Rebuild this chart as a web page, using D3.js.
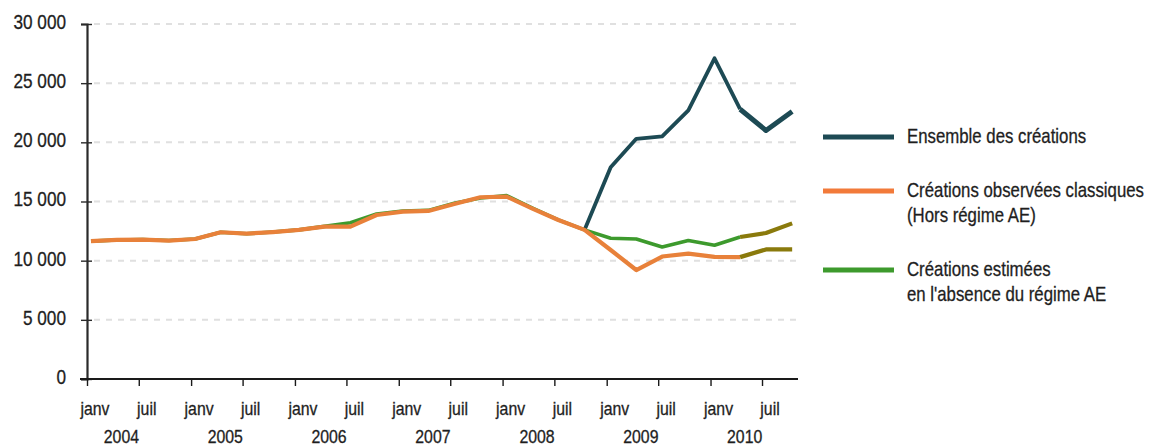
<!DOCTYPE html>
<html>
<head>
<meta charset="utf-8">
<script src="https://cdn.jsdelivr.net/npm/d3@7"></script>
<style>
  body { margin: 0; background: #fff; }
  svg text { font-family: "Liberation Sans", Arial, sans-serif; fill: #1e1e1e; }
</style>
</head>
<body>
<svg id="chart" width="1155" height="447"></svg>
<script>
// trimestres 2004T1 .. 2010T4
var years = [2004, 2005, 2006, 2007, 2008, 2009, 2010];
var tickMonths = ["janv", "juil"];
var yTicks = [0, 5000, 10000, 15000, 20000, 25000, 30000];

var ensemble = [
  11650, 11750, 11780, 11700,
  11830, 12400, 12280, 12420,
  12600, 12870, 12870, 13860,
  14140, 14200, 14790, 15360,
  15410, 14400, 13440, 12600,
  17900, 20300, 20500, 22700,
  27100, 22800, 21000, 22600
];
var classiques = [
  11650, 11750, 11780, 11700,
  11830, 12400, 12280, 12420,
  12600, 12870, 12870, 13860,
  14140, 14200, 14790, 15360,
  15410, 14400, 13440, 12600,
  10900, 9210, 10350, 10600,
  10320, 10300, 10950, 10950
];
var estimees = [
  11650, 11750, 11780, 11700,
  11830, 12400, 12280, 12420,
  12600, 12900, 13200, 13950,
  14200, 14250, 14850, 15300,
  15500, 14450, 13450, 12600,
  11900, 11830, 11160, 11700,
  11300, 12000, 12340, 13150
];
// a partir de cet indice : valeurs estimees (trait olive / plus epais)
var estimStart = 25;

var legendItems = [
  {lines: ["Ensemble des créations"], color: "#1d4a54"},
  {lines: ["Créations observées classiques", "(Hors régime AE)"], color: "#f27a3a"},
  {lines: ["Créations estimées", "en l'absence du régime AE"], color: "#3d9a2d"}
];

var svg = d3.select("#chart");

// police resserree comme dans l'original (echelle horizontale)
function condense(sel, k){
  sel.each(function(){
    var t = d3.select(this);
    var x0 = +t.attr("x") || 0;
    t.attr("x", 0).attr("transform", "translate(" + x0 + ",0) scale(" + k + ",1)");
  });
}

var dates = ensemble.map(function(d, i){
  return new Date(2004 + Math.floor(i / 4), (i % 4) * 3, 15);
});

var x = d3.scaleTime()
  .domain([new Date(2004, 0, 1), new Date(2010, 10, 1)])
  .range([87, 797]);
var y = d3.scaleLinear()
  .domain([0, 30000])
  .range([379, 24]);

var fr = d3.formatLocale({decimal: ",", thousands: " ", grouping: [3], currency: ["", " €"]});
var fmt = fr.format(",d");

/* grille */
svg.append("g").selectAll("line")
  .data(yTicks.filter(function(d){ return d > 0; }))
  .enter().append("line")
  .attr("x1", 94).attr("x2", 800)
  .attr("y1", function(d){ return y(d); })
  .attr("y2", function(d){ return y(d); })
  .attr("stroke", "#e0e0e0")
  .attr("stroke-width", 2)
  .attr("stroke-dasharray", "6,6");

/* axe Y */
var yAxis = svg.append("g")
  .attr("transform", "translate(87,0)")
  .call(d3.axisLeft(y).tickValues(yTicks).tickFormat(fmt).tickSize(6).tickPadding(15));
yAxis.select(".domain").attr("stroke", "#2a2a2a").attr("stroke-width", 2.2);
yAxis.selectAll(".tick line").attr("x2", -6).attr("x1", 5).attr("stroke", "#2a2a2a").attr("stroke-width", 1.4);
yAxis.selectAll(".tick text")
  .attr("font-size", 20)
  .attr("dy", "0.22em")
  .attr("font-family", null)
  .attr("stroke", "#1e1e1e").attr("stroke-width", 0.3)
  .call(condense, 0.86);

/* axe X */
var xTickDates = [];
years.forEach(function(yr){
  xTickDates.push(new Date(yr, 0, 1));
  xTickDates.push(new Date(yr, 6, 1));
});
var xAxis = svg.append("g")
  .attr("transform", "translate(0,379)")
  .call(d3.axisBottom(x).tickValues(xTickDates).tickFormat("").tickSize(7).tickSizeOuter(0));
xAxis.select(".domain").attr("stroke", "#1a1a1a").attr("stroke-width", 2.2).attr("d", "M80,0H798");
xAxis.selectAll(".tick line").attr("stroke", "#1a1a1a").attr("stroke-width", 1.4);

svg.append("g").selectAll("text")
  .data(xTickDates)
  .enter().append("text")
  .attr("x", function(d){ return x(d) + 8; })
  .attr("y", 415)
  .attr("text-anchor", "middle")
  .attr("font-size", 18)
  .attr("stroke", "#1e1e1e").attr("stroke-width", 0.3)
  .text(function(d){ return d.getMonth() === 0 ? tickMonths[0] : tickMonths[1]; })
  .call(condense, 0.88);

svg.append("g").selectAll("text")
  .data(years)
  .enter().append("text")
  .attr("x", function(d){ return x(new Date(d, 4, 1)); })
  .attr("y", 443)
  .attr("text-anchor", "middle")
  .attr("font-size", 18)
  .attr("stroke", "#1e1e1e").attr("stroke-width", 0.3)
  .text(function(d){ return d; })
  .call(condense, 0.88);

/* courbes */
var line = d3.line()
  .x(function(d){ return x(d[0]); })
  .y(function(d){ return y(d[1]); });

function pts(arr, from, to){
  var out = [];
  for(var i = from; i <= to; i++) out.push([dates[i], arr[i]]);
  return out;
}
function drawLine(data, color, w){
  svg.append("path")
    .datum(data)
    .attr("d", line)
    .attr("fill", "none")
    .attr("stroke", color)
    .attr("stroke-width", w)
    .attr("stroke-linejoin", "round")
    .attr("stroke-linecap", "butt");
}
var last = ensemble.length - 1;

drawLine(pts(ensemble, 19, estimStart), "#1d4a54", 3.8);
drawLine(pts(ensemble, estimStart, last), "#1d4a54", 5);
drawLine(pts(estimees, 0, estimStart), "#3d9a2d", 3.6);
drawLine(pts(estimees, estimStart, last), "#8a7a0c", 4.2);
drawLine(pts(classiques, 0, estimStart), "#e8813a", 4.2);
drawLine(pts(classiques, estimStart, last), "#8a7a0c", 4.2);

/* legende */
var legend = svg.append("g");
var legendY = [137, 191, 270];
legendItems.forEach(function(item, i){
  legend.append("line")
    .attr("x1", 823).attr("x2", 894)
    .attr("y1", legendY[i]).attr("y2", legendY[i])
    .attr("stroke", item.color)
    .attr("stroke-width", 5);
  item.lines.forEach(function(t, j){
    legend.append("text")
      .attr("x", 907)
      .attr("y", legendY[i] + 6 + j * 25)
      .attr("font-size", 20)
      .attr("stroke", "#1e1e1e").attr("stroke-width", 0.3)
      .text(t)
      .call(condense, 0.84);
  });
});
</script>
</body>
</html>
